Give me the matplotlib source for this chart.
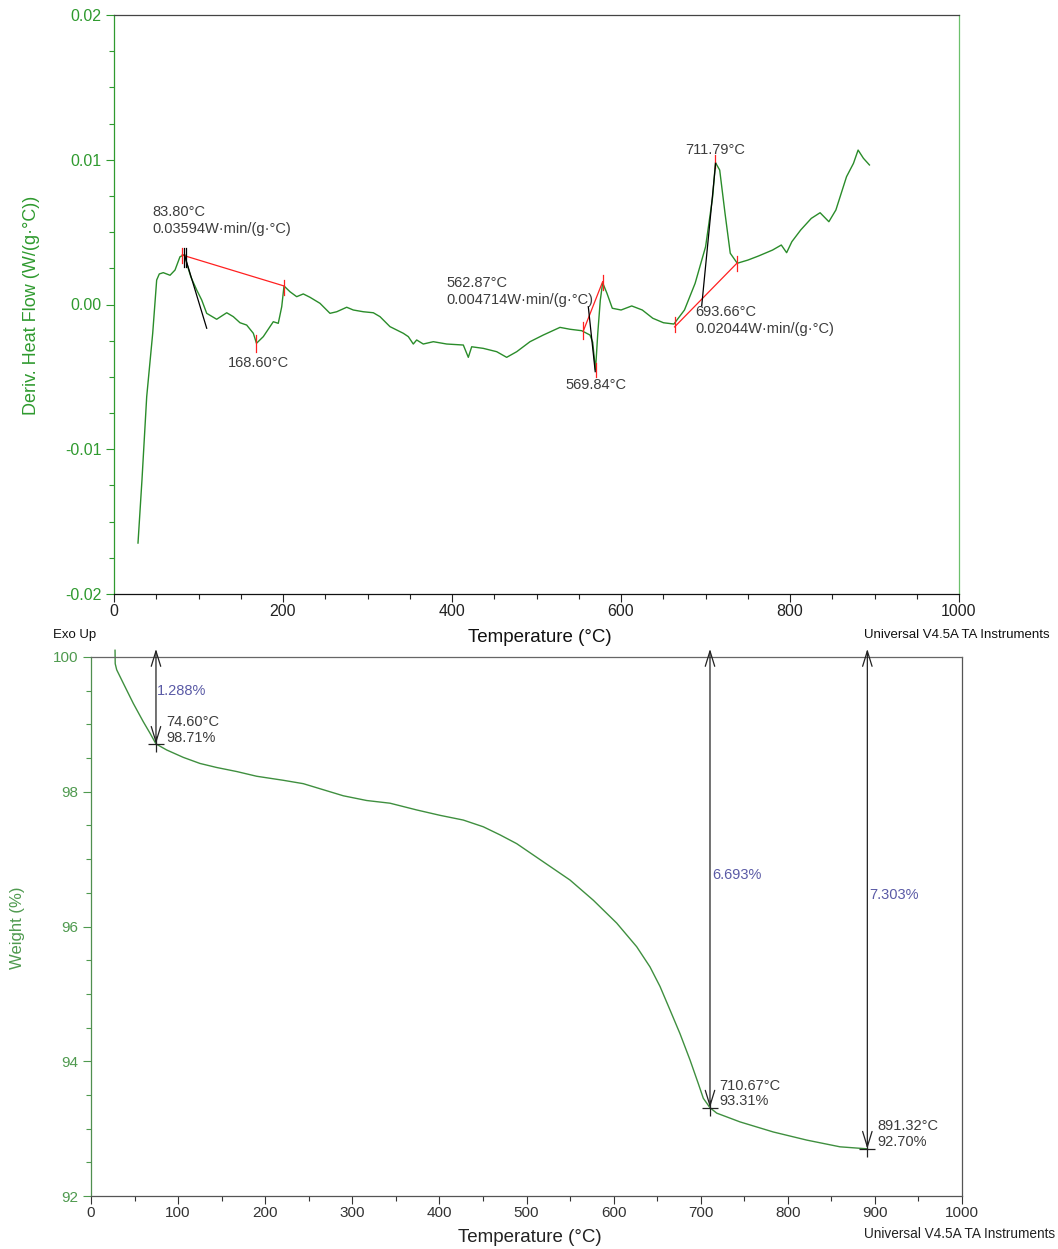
import matplotlib
matplotlib.use("Agg")
import matplotlib.pyplot as plt
from matplotlib.ticker import MultipleLocator, FuncFormatter

plt.rcParams['font.family'] = ['Liberation Sans', 'DejaVu Sans']

# ---------------- DTG (top) data ----------------
dtg_temp = [28.4, 33.1, 38.7, 45.8, 50.5, 53.6, 58.3, 66.3, 72.2, 78.1, 83.8, 86.0, 91.0, 97.9,
            103.8, 109.7, 121.5, 133.4, 141.2, 149.1, 157.0, 164.9, 168.6, 176.7, 184.6, 188.5,
            194.4, 198.5, 201.2, 208.3, 216.2, 224.0, 231.9, 243.8, 255.6, 263.6, 275.4, 283.2,
            295.0, 306.9, 314.8, 326.6, 342.4, 348.3, 354.2, 358.2, 366.0, 377.9, 393.7, 413.4,
            419.3, 423.3, 437.0, 452.9, 464.7, 476.6, 492.3, 508.0, 527.8, 539.6, 553.5, 563.3,
            566.5, 569.84, 572.5, 575.5, 578.3, 583.4, 589.7, 600.1, 612.7, 625.2, 637.6, 650.2,
            662.6, 675.1, 687.7, 700.1, 708.5, 711.79, 716.8, 723.1, 729.3, 737.6, 750.2, 762.7,
            779.3, 789.7, 796.0, 802.2, 812.7, 825.2, 835.6, 846.0, 854.3, 866.9, 875.1, 880.6,
            886.9, 894.0]
dtg_val = [-16.48, -12.12, -6.37, -1.99, 1.69, 2.11, 2.20, 2.02, 2.38, 3.30, 3.45, 2.85, 1.90, 1.00,
           0.31, -0.61, -1.02, -0.57, -0.84, -1.26, -1.42, -1.99, -2.68, -2.22, -1.53, -1.19,
           -1.30, -0.15, 1.28, 0.88, 0.54, 0.73, 0.50, 0.08, -0.61, -0.50, -0.19, -0.38,
           -0.50, -0.57, -0.84, -1.53, -1.99, -2.22, -2.73, -2.45, -2.73, -2.57, -2.73, -2.80,
           -3.65, -2.92, -3.03, -3.26, -3.65, -3.26, -2.57, -2.11, -1.58, -1.71, -1.81, -2.11,
           -2.60, -4.52, -2.00, 0.30, 1.50, 0.77, -0.26, -0.38, -0.10, -0.38, -0.95, -1.26,
           -1.35, -0.38, 1.46, 3.99, 7.45, 9.80, 9.29, 6.30, 3.54, 2.85, 3.07, 3.35,
           3.76, 4.11, 3.58, 4.34, 5.15, 5.95, 6.34, 5.72, 6.53, 8.83, 9.75, 10.67,
           10.10, 9.64]  # x 1e-3 W/(g.°C)

# ---------------- TGA (bottom) data ----------------
tga_temp = [27.6, 27.8, 29.5, 37.1, 48.6, 60.0, 67.7, 74.6, 86.9, 106.0, 125.1, 144.3, 167.3,
            190.2, 220.8, 243.7, 266.7, 289.7, 316.5, 343.3, 373.9, 400.7, 427.4, 450.4, 469.6,
            488.7, 519.3, 549.9, 576.7, 603.6, 626.5, 641.8, 653.3, 664.8, 676.2, 687.7, 697.2,
            703.0, 710.67, 718.4, 745.1, 783.4, 821.7, 859.9, 891.32]
tga_weight = [100.10, 99.90, 99.81, 99.61, 99.31, 99.04, 98.87, 98.71, 98.62, 98.51, 98.42, 98.36,
              98.30, 98.23, 98.17, 98.12, 98.03, 97.94, 97.87, 97.83, 97.73, 97.65, 97.58, 97.48,
              97.36, 97.23, 96.96, 96.69, 96.39, 96.05, 95.70, 95.40, 95.11, 94.76, 94.41, 94.02,
              93.67, 93.45, 93.31, 93.23, 93.10, 92.95, 92.83, 92.73, 92.70]

# step analysis points (temperature, weight, loss label)
step_temp = [74.60, 710.67, 891.32]
step_weight = [98.71, 93.31, 92.70]
step_loss = ["1.288%", "6.693%", "7.303%"]

GREEN_CURVE = '#2a8c2a'
GREEN_AX = '#2f9a2f'
GREEN_AX2 = '#4f9a4f'
TXT = '#3c3c3c'
PURPLE = '#5a5aa6'

W, H = 1058, 1249
fig = plt.figure(figsize=(W / 100, H / 100), dpi=100)


def fx(px):
    return px / W


def fy(py):
    return 1 - py / H


# ================= Top: DTG =================
ax1 = fig.add_axes([fx(114), fy(594), fx(959) - fx(114), fy(15) - fy(594)])
ax1.plot(dtg_temp, [v * 1e-3 for v in dtg_val], color=GREEN_CURVE, lw=1.0)
ax1.set_xlim(0, 1000)
ax1.set_ylim(-0.02, 0.02)
ax1.xaxis.set_major_locator(MultipleLocator(200))
ax1.xaxis.set_minor_locator(MultipleLocator(50))
ax1.yaxis.set_major_locator(MultipleLocator(0.01))
ax1.yaxis.set_minor_locator(MultipleLocator(0.0025))
ax1.yaxis.set_major_formatter(FuncFormatter(lambda v, p: f"{abs(v):.2f}" if abs(v) < 1e-9 else f"{v:.2f}"))
ax1.tick_params(axis='both', which='major', direction='out', length=6, width=0.8)
ax1.tick_params(axis='both', which='minor', direction='out', length=3.5, width=0.8)
ax1.tick_params(axis='y', which='both', colors=GREEN_AX, labelsize=11.5, pad=3)
ax1.tick_params(axis='x', which='both', colors='#222222', labelsize=11.5, pad=1.5)
ax1.spines['left'].set_color(GREEN_AX)
ax1.spines['right'].set_color('#6cc06c')
ax1.spines['top'].set_color('#444444')
ax1.spines['bottom'].set_color('#111111')
for s in ax1.spines.values():
    s.set_linewidth(0.9)

red = '#ff2020'
# peak 1 integration
ax1.plot([80.5, 201.2], [0.00342, 0.00128], color=red, lw=0.9)
ax1.plot([80.5, 80.5], [0.00392, 0.00287], color=red, lw=0.9)
ax1.plot([201.2, 201.2], [0.00169, 0.00066], color=red, lw=0.9)
ax1.plot([168.6, 168.6], [-0.00211, -0.00326], color=red, lw=0.9)
ax1.plot([82.9, 82.9], [0.00388, 0.00261], color='black', lw=0.9)
ax1.plot([84.9, 84.9], [0.00388, 0.00261], color='black', lw=0.9)
ax1.plot([83.4, 109.7], [0.00342, -0.00164], color='black', lw=0.9)
# peak 2
ax1.plot([555.4, 578.3], [-0.00183, 0.00158], color=red, lw=0.9)
ax1.plot([555.4, 555.4], [-0.00121, -0.00238], color=red, lw=0.9)
ax1.plot([578.3, 578.3], [0.00204, 0.00100], color=red, lw=0.9)
ax1.plot([569.84, 569.84], [-0.00404, -0.00501], color=red, lw=0.9)
ax1.plot([561.3, 569.5], [-0.00015, -0.00464], color='black', lw=0.9)
# peak 3
ax1.plot([663.4, 736.8], [-0.00155, 0.00283], color=red, lw=0.9)
ax1.plot([663.4, 663.4], [-0.00086, -0.00190], color=red, lw=0.9)
ax1.plot([736.8, 736.8], [0.00335, 0.00231], color=red, lw=0.9)
ax1.plot([711.79, 711.79], [0.01033, 0.00943], color=red, lw=0.9)
ax1.plot([695.5, 712.0], [-0.0001, 0.00975], color='black', lw=0.9)

afs = 10.5
ax1.text(45.0, 0.00639, "83.80°C", color=TXT, fontsize=afs, va='center', ha='left')
ax1.text(45.0, 0.00522, "0.03594W·min/(g·°C)", color=TXT, fontsize=afs, va='center', ha='left')
ax1.text(170.4, -0.00404, "168.60°C", color=TXT, fontsize=afs, va='center', ha='center')
ax1.text(392.9, 0.00149, "562.87°C", color=TXT, fontsize=afs, va='center', ha='left')
ax1.text(392.9, 0.00031, "0.004714W·min/(g·°C)", color=TXT, fontsize=afs, va='center', ha='left')
ax1.text(570.4, -0.00556, "569.84°C", color=TXT, fontsize=afs, va='center', ha='center')
ax1.text(711.2, 0.01067, "711.79°C", color=TXT, fontsize=afs, va='center', ha='center')
ax1.text(687.6, -0.00052, "693.66°C", color=TXT, fontsize=afs, va='center', ha='left')
ax1.text(687.6, -0.00169, "0.02044W·min/(g·°C)", color=TXT, fontsize=afs, va='center', ha='left')

fig.text(fx(540), fy(637), "Temperature (°C)", fontsize=13.5, color='#111111', ha='center', va='center')
fig.text(fx(32), fy(305), "Deriv. Heat Flow (W/(g·°C))", fontsize=13, color=GREEN_AX,
         ha='center', va='center', rotation=90)
fig.text(fx(53), fy(635), "Exo Up", fontsize=9.5, color='#111111', ha='left', va='center')
fig.text(fx(1050), fy(635), "Universal V4.5A TA Instruments", fontsize=9.5, color='#111111',
         ha='right', va='center')

# ================= Bottom: TGA =================
ax2 = fig.add_axes([fx(91), fy(1196), fx(962) - fx(91), fy(657) - fy(1196)])
ax2.plot(tga_temp, tga_weight, color='#3f8f3f', lw=1.0, clip_on=False)
ax2.set_xlim(0, 1000)
ax2.set_ylim(92, 100)
ax2.xaxis.set_major_locator(MultipleLocator(100))
ax2.xaxis.set_minor_locator(MultipleLocator(50))
ax2.yaxis.set_major_locator(MultipleLocator(2))
ax2.yaxis.set_minor_locator(MultipleLocator(0.5))
ax2.yaxis.set_major_formatter(FuncFormatter(lambda v, p: f"{v:.0f}"))
ax2.tick_params(axis='both', which='major', direction='out', length=6, width=0.8)
ax2.tick_params(axis='both', which='minor', direction='out', length=3.5, width=0.8)
ax2.tick_params(axis='y', which='both', colors=GREEN_AX2, labelsize=11, pad=3)
ax2.tick_params(axis='x', which='both', colors='#333333', labelsize=11, pad=1.5)
ax2.spines['left'].set_color('#4f8f4f')
ax2.spines['right'].set_color('#555555')
ax2.spines['top'].set_color('#666666')
ax2.spines['bottom'].set_color('#555555')
for s in ax2.spines.values():
    s.set_linewidth(0.9)

for t, w in zip(step_temp, step_weight):
    ax2.annotate("", xy=(t, 100.12), xytext=(t, w), xycoords='data',
                 arrowprops=dict(arrowstyle='<->,head_length=0.55,head_width=0.17',
                                 color='#222222', lw=0.9, shrinkA=0, shrinkB=0,
                                 mutation_scale=20), annotation_clip=False)
    ax2.plot([t], [w], marker='+', markersize=12, color='#222222', mew=0.9)

ax2.text(75.8, 99.50, step_loss[0], color=PURPLE, fontsize=10.5, va='center', ha='left')
ax2.text(713.0, 96.76, step_loss[1], color=PURPLE, fontsize=10.5, va='center', ha='left')
ax2.text(893.2, 96.47, step_loss[2], color=PURPLE, fontsize=10.5, va='center', ha='left')
ax2.text(86.1, 99.04, f"{step_temp[0]:.2f}°C", color=TXT, fontsize=10.5, va='center', ha='left')
ax2.text(86.1, 98.80, f"{step_weight[0]:.2f}%", color=TXT, fontsize=10.5, va='center', ha='left')
ax2.text(721.0, 93.63, f"{step_temp[1]:.2f}°C", color=TXT, fontsize=10.5, va='center', ha='left')
ax2.text(721.0, 93.41, f"{step_weight[1]:.2f}%", color=TXT, fontsize=10.5, va='center', ha='left')
ax2.text(902.4, 93.04, f"{step_temp[2]:.2f}°C", color=TXT, fontsize=10.5, va='center', ha='left')
ax2.text(902.4, 92.80, f"{step_weight[2]:.2f}%", color=TXT, fontsize=10.5, va='center', ha='left')

fig.text(fx(530), fy(1237), "Temperature (°C)", fontsize=13.5, color='#222222', ha='center', va='center')
fig.text(fx(18), fy(928), "Weight (%)", fontsize=12, color=GREEN_AX2, ha='center', va='center', rotation=90)
fig.text(fx(1055), fy(1234), "Universal V4.5A TA Instruments", fontsize=9.8, color='#222222',
         ha='right', va='center')

fig.savefig("out.png", dpi=100)
